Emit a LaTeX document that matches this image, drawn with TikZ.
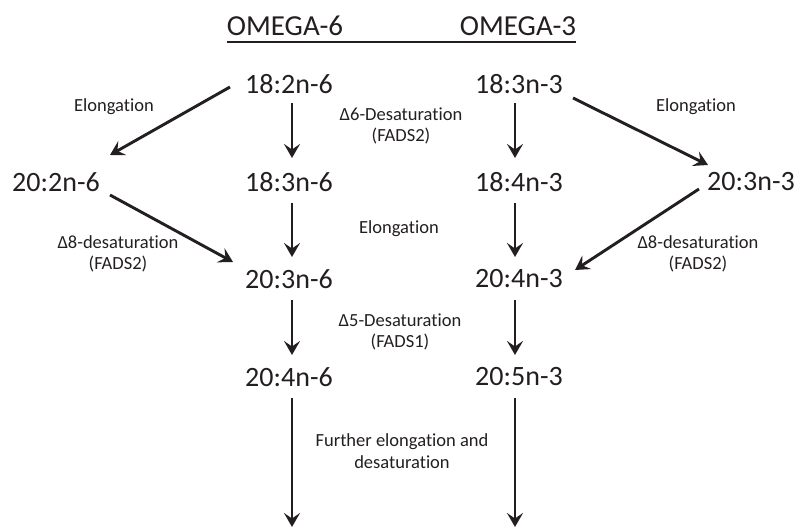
\documentclass[tikz,border=0pt]{standalone}
\usepackage{fontspec}
\setmainfont{Carlito}[Ligatures={NoCommon,NoRare,NoContextual}]
\usetikzlibrary{arrows.meta}
\definecolor{ink}{HTML}{231F20}
\tikzset{
  big/.style={inner sep=0pt, text=ink, font=\fontsize{28}{34}\selectfont},
  head/.style={inner sep=0pt, text=ink, font=\fontsize{29}{34}\selectfont},
  lab/.style={inner sep=0pt, text=ink, align=center, font=\fontsize{18.5}{21.5}\selectfont},
  arr/.style={draw=ink, line width=2.9pt, -{Stealth[length=14pt,width=16pt,inset=5.5pt]}},
  uline/.style={draw=ink, line width=1.8pt}
}
\begin{document}
\begin{tikzpicture}[x=1pt,y=-1pt]
\useasboundingbox (0,0) rectangle (798,529);
% header
\node[head] (o6) at (285,26) {OMEGA-6};
\node[head] (o3) at (518,26) {OMEGA-3};
\coordinate (u1) at ([shift={(0,6)}]o6.south west);
\draw[uline] (u1) -- (u1 -| o3.south east);
% species
\node[big] (n6a) at (289,84) {18:2n-6};
\node[big] (n3a) at (519,84) {18:3n-3};
\node[big] (n6l) at (56,182) {20:2n-6};
\node[big] (n6b) at (289,182) {18:3n-6};
\node[big] (n3b) at (519,182) {18:4n-3};
\node[big] (n3r) at (751,182) {20:3n-3};
\node[big] (n6c) at (289,279) {20:3n-6};
\node[big] (n3c) at (519,279) {20:4n-3};
\node[big] (n6d) at (289,377) {20:4n-6};
\node[big] (n3d) at (519,377) {20:5n-3};
\coordinate (e6) at (292,527);
\coordinate (e3) at (515,527);
% labels
\node[lab] (l1) at (114,107) {Elongation};
\node[lab] (l2) at (401,126) {Δ6-Desaturation\\(FADS2)};
\node[lab] (l3) at (696,107) {Elongation};
\node[lab] (l4) at (399,229) {Elongation};
\node[lab] (l5) at (118,254) {Δ8-desaturation\\(FADS2)};
\node[lab] (l6) at (698,254) {Δ8-desaturation\\(FADS2)};
\node[lab] (l7) at (400,332) {Δ5-Desaturation\\(FADS1)};
\node[lab] (l8) at (402,451) {Further elongation and\\desaturation};
% arrows
\draw[arr] ([shift={(-59,3)}]n6a.center) -- ([shift={(54,-27)}]n6l.center);
\draw[arr] ([shift={(54,14)}]n3a.center) -- ([shift={(-43,-17)}]n3r.center);
\draw[arr] ([shift={(54,13)}]n6l.center) -- ([shift={(-56,-17)}]n6c.center);
\draw[arr] ([shift={(-52,7)}]n3r.center) -- ([shift={(56,-9)}]n3c.center);
\draw[arr] ([shift={(3,19)}]n6a.center) -- ([shift={(3,-24)}]n6b.center);
\draw[arr] ([shift={(-4,19)}]n3a.center) -- ([shift={(-4,-24)}]n3b.center);
\draw[arr] ([shift={(3,21)}]n6b.center) -- ([shift={(3,-22)}]n6c.center);
\draw[arr] ([shift={(-4,21)}]n3b.center) -- ([shift={(-4,-22)}]n3c.center);
\draw[arr] ([shift={(3,21)}]n6c.center) -- ([shift={(3,-22)}]n6d.center);
\draw[arr] ([shift={(-4,21)}]n3c.center) -- ([shift={(-4,-22)}]n3d.center);
\draw[arr] ([shift={(3,21)}]n6d.center) -- (e6);
\draw[arr] ([shift={(-4,21)}]n3d.center) -- (e3);
\end{tikzpicture}
\end{document}
